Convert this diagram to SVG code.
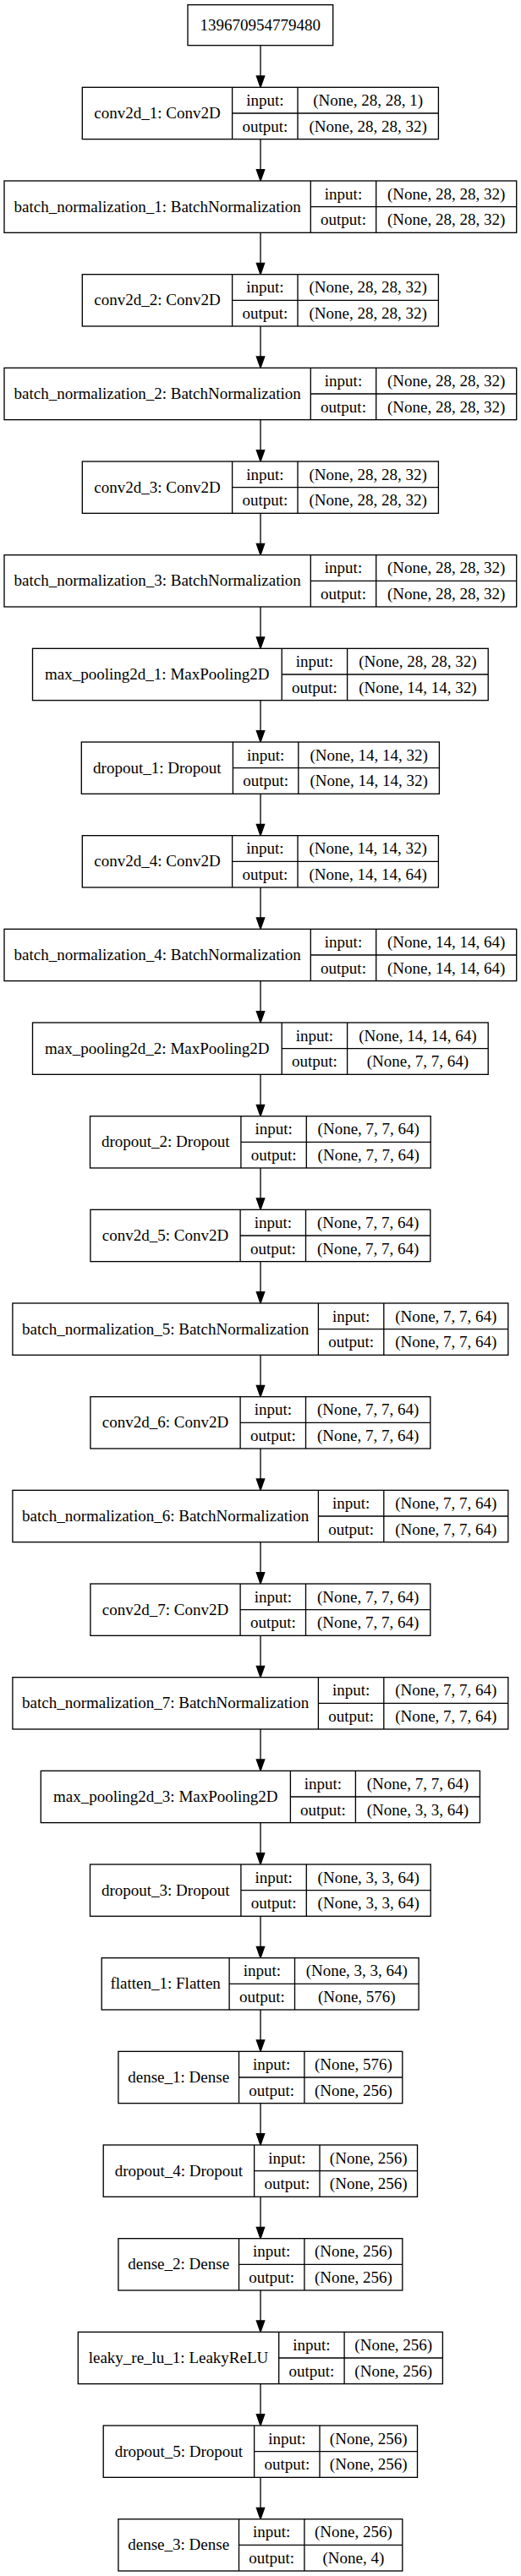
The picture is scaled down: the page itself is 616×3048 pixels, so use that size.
<svg xmlns="http://www.w3.org/2000/svg" width="616" height="3048" viewBox="0 0 616 3048">
<defs>
<style>
.b{fill:#fff;stroke:#000;stroke-width:1.33}
.l{stroke:#000;stroke-width:1.33;fill:none}
.e{stroke:#000;stroke-width:1.33;fill:none;marker-end:url(#ah)}
text{font-family:"Liberation Serif","Times New Roman",serif;font-size:19px;text-anchor:middle;fill:#000}
</style>
<marker id="ah" markerUnits="userSpaceOnUse" markerWidth="16" markerHeight="12" refX="0" refY="5" orient="auto" overflow="visible">
<path d="M0,0.33 L13.33,5 L0,9.67 z" fill="#000" stroke="#000" stroke-width="1.33"/>
</marker>
</defs>
<rect width="616" height="3048" fill="#fff"/>

<g id="connectors">
<line class="e" x1="308" y1="53.7" x2="308" y2="90"/>
<line class="e" x1="308" y1="164.67" x2="308" y2="200.67"/>
<line class="e" x1="308" y1="275.33" x2="308" y2="311.33"/>
<line class="e" x1="308" y1="386" x2="308" y2="422"/>
<line class="e" x1="308" y1="496.67" x2="308" y2="532.67"/>
<line class="e" x1="308" y1="607.33" x2="308" y2="643.33"/>
<line class="e" x1="308" y1="718" x2="308" y2="754"/>
<line class="e" x1="308" y1="828.67" x2="308" y2="864.67"/>
<line class="e" x1="308" y1="939.33" x2="308" y2="975.33"/>
<line class="e" x1="308" y1="1050" x2="308" y2="1086"/>
<line class="e" x1="308" y1="1160.67" x2="308" y2="1196.67"/>
<line class="e" x1="308" y1="1271.33" x2="308" y2="1307.33"/>
<line class="e" x1="308" y1="1382" x2="308" y2="1418"/>
<line class="e" x1="308" y1="1492.67" x2="308" y2="1528.67"/>
<line class="e" x1="308" y1="1603.33" x2="308" y2="1639.33"/>
<line class="e" x1="308" y1="1714" x2="308" y2="1750"/>
<line class="e" x1="308" y1="1824.67" x2="308" y2="1860.67"/>
<line class="e" x1="308" y1="1935.33" x2="308" y2="1971.33"/>
<line class="e" x1="308" y1="2046" x2="308" y2="2082"/>
<line class="e" x1="308" y1="2156.67" x2="308" y2="2192.67"/>
<line class="e" x1="308" y1="2267.33" x2="308" y2="2303.33"/>
<line class="e" x1="308" y1="2378" x2="308" y2="2414"/>
<line class="e" x1="308" y1="2488.67" x2="308" y2="2524.67"/>
<line class="e" x1="308" y1="2599.33" x2="308" y2="2635.33"/>
<line class="e" x1="308" y1="2710" x2="308" y2="2746"/>
<line class="e" x1="308" y1="2820.67" x2="308" y2="2856.67"/>
<line class="e" x1="308" y1="2931.33" x2="308" y2="2967.33"/>
</g>

<g id="input_node">
<rect class="b" x="222" y="5.7" width="171.7" height="48"/>
<text x="307.85" y="36">139670954779480</text>
</g>

<g id="conv2d_1" transform="translate(0,103.33)">
<rect class="b" x="97.3" y="0" width="421.1" height="61.33"/>
<path class="l" d="M274.6,0V61.33M352,0V61.33M274.6,30.67H518.4"/>
<text x="185.95" y="36.7">conv2d_1: Conv2D</text>
<text x="313.3" y="21.5">input:</text><text x="313.3" y="52.2">output:</text>
<text x="435.2" y="21.5">(None, 28, 28, 1)</text><text x="435.2" y="52.2">(None, 28, 28, 32)</text>
</g>

<g id="batch_normalization_1" transform="translate(0,214)">
<rect class="b" x="5" y="0" width="605.7" height="61.33"/>
<path class="l" d="M367.3,0V61.33M444.7,0V61.33M367.3,30.67H610.7"/>
<text x="186.15" y="36.7">batch_normalization_1: BatchNormalization</text>
<text x="406" y="21.5">input:</text><text x="406" y="52.2">output:</text>
<text x="527.7" y="21.5">(None, 28, 28, 32)</text><text x="527.7" y="52.2">(None, 28, 28, 32)</text>
</g>

<g id="conv2d_2" transform="translate(0,324.67)">
<rect class="b" x="97.3" y="0" width="421.1" height="61.33"/>
<path class="l" d="M274.6,0V61.33M352,0V61.33M274.6,30.67H518.4"/>
<text x="185.95" y="36.7">conv2d_2: Conv2D</text>
<text x="313.3" y="21.5">input:</text><text x="313.3" y="52.2">output:</text>
<text x="435.2" y="21.5">(None, 28, 28, 32)</text><text x="435.2" y="52.2">(None, 28, 28, 32)</text>
</g>

<g id="batch_normalization_2" transform="translate(0,435.33)">
<rect class="b" x="5" y="0" width="605.7" height="61.33"/>
<path class="l" d="M367.3,0V61.33M444.7,0V61.33M367.3,30.67H610.7"/>
<text x="186.15" y="36.7">batch_normalization_2: BatchNormalization</text>
<text x="406" y="21.5">input:</text><text x="406" y="52.2">output:</text>
<text x="527.7" y="21.5">(None, 28, 28, 32)</text><text x="527.7" y="52.2">(None, 28, 28, 32)</text>
</g>

<g id="conv2d_3" transform="translate(0,546)">
<rect class="b" x="97.3" y="0" width="421.1" height="61.33"/>
<path class="l" d="M274.6,0V61.33M352,0V61.33M274.6,30.67H518.4"/>
<text x="185.95" y="36.7">conv2d_3: Conv2D</text>
<text x="313.3" y="21.5">input:</text><text x="313.3" y="52.2">output:</text>
<text x="435.2" y="21.5">(None, 28, 28, 32)</text><text x="435.2" y="52.2">(None, 28, 28, 32)</text>
</g>

<g id="batch_normalization_3" transform="translate(0,656.67)">
<rect class="b" x="5" y="0" width="605.7" height="61.33"/>
<path class="l" d="M367.3,0V61.33M444.7,0V61.33M367.3,30.67H610.7"/>
<text x="186.15" y="36.7">batch_normalization_3: BatchNormalization</text>
<text x="406" y="21.5">input:</text><text x="406" y="52.2">output:</text>
<text x="527.7" y="21.5">(None, 28, 28, 32)</text><text x="527.7" y="52.2">(None, 28, 28, 32)</text>
</g>

<g id="max_pooling2d_1" transform="translate(0,767.33)">
<rect class="b" x="38.5" y="0" width="538.7" height="61.33"/>
<path class="l" d="M333.2,0V61.33M410.6,0V61.33M333.2,30.67H577.2"/>
<text x="185.85" y="36.7">max_pooling2d_1: MaxPooling2D</text>
<text x="371.9" y="21.5">input:</text><text x="371.9" y="52.2">output:</text>
<text x="493.9" y="21.5">(None, 28, 28, 32)</text><text x="493.9" y="52.2">(None, 14, 14, 32)</text>
</g>

<g id="dropout_1" transform="translate(0,878)">
<rect class="b" x="96.3" y="0" width="423.1" height="61.33"/>
<path class="l" d="M275.4,0V61.33M352.8,0V61.33M275.4,30.67H519.4"/>
<text x="185.85" y="36.7">dropout_1: Dropout</text>
<text x="314.1" y="21.5">input:</text><text x="314.1" y="52.2">output:</text>
<text x="436.1" y="21.5">(None, 14, 14, 32)</text><text x="436.1" y="52.2">(None, 14, 14, 32)</text>
</g>

<g id="conv2d_4" transform="translate(0,988.67)">
<rect class="b" x="97.3" y="0" width="421.1" height="61.33"/>
<path class="l" d="M274.6,0V61.33M352,0V61.33M274.6,30.67H518.4"/>
<text x="185.95" y="36.7">conv2d_4: Conv2D</text>
<text x="313.3" y="21.5">input:</text><text x="313.3" y="52.2">output:</text>
<text x="435.2" y="21.5">(None, 14, 14, 32)</text><text x="435.2" y="52.2">(None, 14, 14, 64)</text>
</g>

<g id="batch_normalization_4" transform="translate(0,1099.33)">
<rect class="b" x="5" y="0" width="605.7" height="61.33"/>
<path class="l" d="M367.3,0V61.33M444.7,0V61.33M367.3,30.67H610.7"/>
<text x="186.15" y="36.7">batch_normalization_4: BatchNormalization</text>
<text x="406" y="21.5">input:</text><text x="406" y="52.2">output:</text>
<text x="527.7" y="21.5">(None, 14, 14, 64)</text><text x="527.7" y="52.2">(None, 14, 14, 64)</text>
</g>

<g id="max_pooling2d_2" transform="translate(0,1210)">
<rect class="b" x="38.5" y="0" width="538.7" height="61.33"/>
<path class="l" d="M333.2,0V61.33M410.6,0V61.33M333.2,30.67H577.2"/>
<text x="185.85" y="36.7">max_pooling2d_2: MaxPooling2D</text>
<text x="371.9" y="21.5">input:</text><text x="371.9" y="52.2">output:</text>
<text x="493.9" y="21.5">(None, 14, 14, 64)</text><text x="493.9" y="52.2">(None, 7, 7, 64)</text>
</g>

<g id="dropout_2" transform="translate(0,1320.67)">
<rect class="b" x="106.5" y="0" width="402.7" height="61.33"/>
<path class="l" d="M284.9,0V61.33M362.3,0V61.33M284.9,30.67H509.2"/>
<text x="195.7" y="36.7">dropout_2: Dropout</text>
<text x="323.6" y="21.5">input:</text><text x="323.6" y="52.2">output:</text>
<text x="435.75" y="21.5">(None, 7, 7, 64)</text><text x="435.75" y="52.2">(None, 7, 7, 64)</text>
</g>

<g id="conv2d_5" transform="translate(0,1431.33)">
<rect class="b" x="106.9" y="0" width="401.9" height="61.33"/>
<path class="l" d="M284.1,0V61.33M361.5,0V61.33M284.1,30.67H508.8"/>
<text x="195.5" y="36.7">conv2d_5: Conv2D</text>
<text x="322.8" y="21.5">input:</text><text x="322.8" y="52.2">output:</text>
<text x="435.15" y="21.5">(None, 7, 7, 64)</text><text x="435.15" y="52.2">(None, 7, 7, 64)</text>
</g>

<g id="batch_normalization_5" transform="translate(0,1542)">
<rect class="b" x="14.9" y="0" width="585.9" height="61.33"/>
<path class="l" d="M376.4,0V61.33M453.8,0V61.33M376.4,30.67H600.8"/>
<text x="195.65" y="36.7">batch_normalization_5: BatchNormalization</text>
<text x="415.1" y="21.5">input:</text><text x="415.1" y="52.2">output:</text>
<text x="527.3" y="21.5">(None, 7, 7, 64)</text><text x="527.3" y="52.2">(None, 7, 7, 64)</text>
</g>

<g id="conv2d_6" transform="translate(0,1652.67)">
<rect class="b" x="106.9" y="0" width="401.9" height="61.33"/>
<path class="l" d="M284.1,0V61.33M361.5,0V61.33M284.1,30.67H508.8"/>
<text x="195.5" y="36.7">conv2d_6: Conv2D</text>
<text x="322.8" y="21.5">input:</text><text x="322.8" y="52.2">output:</text>
<text x="435.15" y="21.5">(None, 7, 7, 64)</text><text x="435.15" y="52.2">(None, 7, 7, 64)</text>
</g>

<g id="batch_normalization_6" transform="translate(0,1763.33)">
<rect class="b" x="14.9" y="0" width="585.9" height="61.33"/>
<path class="l" d="M376.4,0V61.33M453.8,0V61.33M376.4,30.67H600.8"/>
<text x="195.65" y="36.7">batch_normalization_6: BatchNormalization</text>
<text x="415.1" y="21.5">input:</text><text x="415.1" y="52.2">output:</text>
<text x="527.3" y="21.5">(None, 7, 7, 64)</text><text x="527.3" y="52.2">(None, 7, 7, 64)</text>
</g>

<g id="conv2d_7" transform="translate(0,1874)">
<rect class="b" x="106.9" y="0" width="401.9" height="61.33"/>
<path class="l" d="M284.1,0V61.33M361.5,0V61.33M284.1,30.67H508.8"/>
<text x="195.5" y="36.7">conv2d_7: Conv2D</text>
<text x="322.8" y="21.5">input:</text><text x="322.8" y="52.2">output:</text>
<text x="435.15" y="21.5">(None, 7, 7, 64)</text><text x="435.15" y="52.2">(None, 7, 7, 64)</text>
</g>

<g id="batch_normalization_7" transform="translate(0,1984.67)">
<rect class="b" x="14.9" y="0" width="585.9" height="61.33"/>
<path class="l" d="M376.4,0V61.33M453.8,0V61.33M376.4,30.67H600.8"/>
<text x="195.65" y="36.7">batch_normalization_7: BatchNormalization</text>
<text x="415.1" y="21.5">input:</text><text x="415.1" y="52.2">output:</text>
<text x="527.3" y="21.5">(None, 7, 7, 64)</text><text x="527.3" y="52.2">(None, 7, 7, 64)</text>
</g>

<g id="max_pooling2d_3" transform="translate(0,2095.33)">
<rect class="b" x="48.3" y="0" width="519.1" height="61.33"/>
<path class="l" d="M343.4,0V61.33M420.4,0V61.33M343.4,30.67H567.4"/>
<text x="195.85" y="36.7">max_pooling2d_3: MaxPooling2D</text>
<text x="381.9" y="21.5">input:</text><text x="381.9" y="52.2">output:</text>
<text x="493.9" y="21.5">(None, 7, 7, 64)</text><text x="493.9" y="52.2">(None, 3, 3, 64)</text>
</g>

<g id="dropout_3" transform="translate(0,2206)">
<rect class="b" x="106.5" y="0" width="402.7" height="61.33"/>
<path class="l" d="M284.9,0V61.33M362.3,0V61.33M284.9,30.67H509.2"/>
<text x="195.7" y="36.7">dropout_3: Dropout</text>
<text x="323.6" y="21.5">input:</text><text x="323.6" y="52.2">output:</text>
<text x="435.75" y="21.5">(None, 3, 3, 64)</text><text x="435.75" y="52.2">(None, 3, 3, 64)</text>
</g>

<g id="flatten_1" transform="translate(0,2316.67)">
<rect class="b" x="120.2" y="0" width="374.9" height="61.33"/>
<path class="l" d="M271.1,0V61.33M348.5,0V61.33M271.1,30.67H495.1"/>
<text x="195.65" y="36.7">flatten_1: Flatten</text>
<text x="309.8" y="21.5">input:</text><text x="309.8" y="52.2">output:</text>
<text x="421.8" y="21.5">(None, 3, 3, 64)</text><text x="421.8" y="52.2">(None, 576)</text>
</g>

<g id="dense_1" transform="translate(0,2427.33)">
<rect class="b" x="139.9" y="0" width="335.9" height="61.33"/>
<path class="l" d="M282.5,0V61.33M359.9,0V61.33M282.5,30.67H475.8"/>
<text x="211.2" y="36.7">dense_1: Dense</text>
<text x="321.2" y="21.5">input:</text><text x="321.2" y="52.2">output:</text>
<text x="417.85" y="21.5">(None, 576)</text><text x="417.85" y="52.2">(None, 256)</text>
</g>

<g id="dropout_4" transform="translate(0,2538)">
<rect class="b" x="122.2" y="0" width="371.3" height="61.33"/>
<path class="l" d="M300.6,0V61.33M378,0V61.33M300.6,30.67H493.5"/>
<text x="211.4" y="36.7">dropout_4: Dropout</text>
<text x="339.3" y="21.5">input:</text><text x="339.3" y="52.2">output:</text>
<text x="435.75" y="21.5">(None, 256)</text><text x="435.75" y="52.2">(None, 256)</text>
</g>

<g id="dense_2" transform="translate(0,2648.67)">
<rect class="b" x="139.9" y="0" width="335.9" height="61.33"/>
<path class="l" d="M282.5,0V61.33M359.9,0V61.33M282.5,30.67H475.8"/>
<text x="211.2" y="36.7">dense_2: Dense</text>
<text x="321.2" y="21.5">input:</text><text x="321.2" y="52.2">output:</text>
<text x="417.85" y="21.5">(None, 256)</text><text x="417.85" y="52.2">(None, 256)</text>
</g>

<g id="leaky_re_lu_1" transform="translate(0,2759.33)">
<rect class="b" x="92.3" y="0" width="431.1" height="61.33"/>
<path class="l" d="M329.7,0V61.33M407.1,0V61.33M329.7,30.67H523.4"/>
<text x="211" y="36.7">leaky_re_lu_1: LeakyReLU</text>
<text x="368.4" y="21.5">input:</text><text x="368.4" y="52.2">output:</text>
<text x="465.25" y="21.5">(None, 256)</text><text x="465.25" y="52.2">(None, 256)</text>
</g>

<g id="dropout_5" transform="translate(0,2870)">
<rect class="b" x="122.2" y="0" width="371.3" height="61.33"/>
<path class="l" d="M300.6,0V61.33M378,0V61.33M300.6,30.67H493.5"/>
<text x="211.4" y="36.7">dropout_5: Dropout</text>
<text x="339.3" y="21.5">input:</text><text x="339.3" y="52.2">output:</text>
<text x="435.75" y="21.5">(None, 256)</text><text x="435.75" y="52.2">(None, 256)</text>
</g>

<g id="dense_3" transform="translate(0,2980.67)">
<rect class="b" x="139.9" y="0" width="335.9" height="61.33"/>
<path class="l" d="M282.5,0V61.33M359.9,0V61.33M282.5,30.67H475.8"/>
<text x="211.2" y="36.7">dense_3: Dense</text>
<text x="321.2" y="21.5">input:</text><text x="321.2" y="52.2">output:</text>
<text x="417.85" y="21.5">(None, 256)</text><text x="417.85" y="52.2">(None, 4)</text>
</g>
</svg>
